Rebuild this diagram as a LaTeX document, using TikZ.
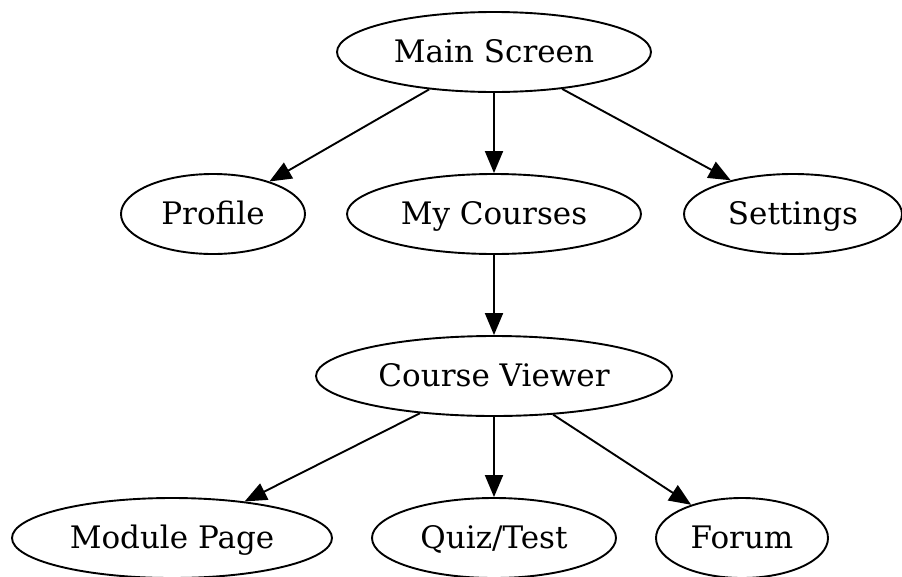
\documentclass[tikz,border=0pt]{standalone}
\usepackage{fontspec}
\setmainfont{DejaVu Serif}
\usetikzlibrary{shapes.geometric}
\usetikzlibrary{arrows.meta}

\begin{document}
\begin{tikzpicture}[x=1pt,y=-1pt]
    \useasboundingbox (0,0) rectangle (902,576);
    \begin{scope}[line width=1.9pt,font=\fontsize{31}{36}\selectfont,
        screen/.style={draw,ellipse,inner sep=0pt,minimum height=80pt,text height=22pt,text depth=2pt},
        link/.style={-{Triangle[length=22pt,width=18pt]}}]
    % Screens, placed at coordinates:
    \node [screen,minimum width=314pt] (main)     at (494,52)  {Main Screen};
    \node [screen,minimum width=184pt] (profile)  at (213,214) {Profile};
    \node [screen,minimum width=294pt] (courses)  at (494,214) {My Courses};
    \node [screen,minimum width=218pt] (settings) at (793,214) {Settings};
    \node [screen,minimum width=356pt] (viewer)   at (494,376) {Course Viewer};
    \node [screen,minimum width=320pt] (module)   at (172,538) {Module Page};
    \node [screen,minimum width=244pt] (quiz)     at (494,538) {Quiz/Test};
    \node [screen,minimum width=172pt] (forum)    at (742,538) {Forum};

    % Navigation:
    \draw [link] (main) -- (profile);
    \draw [link] (main) -- (courses);
    \draw [link] (main) -- (settings);
    \draw [link] (courses) -- (viewer);
    \draw [link] (viewer) -- (module);
    \draw [link] (viewer) -- (quiz);
    \draw [link] (viewer) -- (forum);
    \end{scope}
\end{tikzpicture}
\end{document}
